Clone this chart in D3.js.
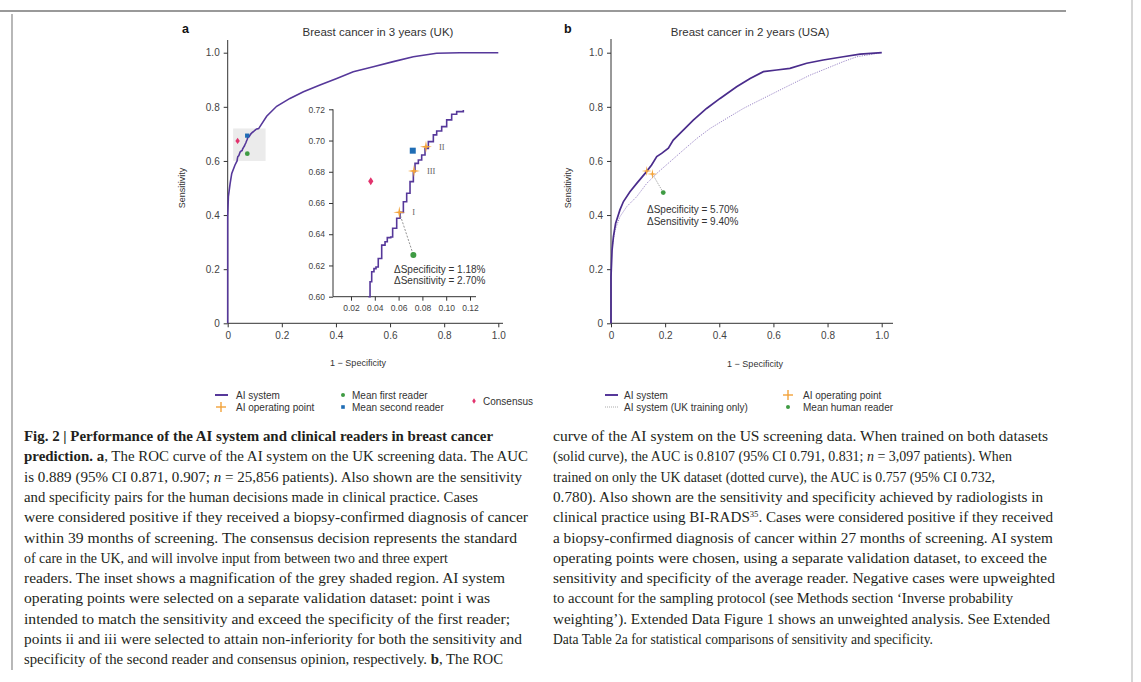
<!DOCTYPE html>
<html>
<head>
<meta charset="utf-8">
<script src="https://cdn.jsdelivr.net/npm/d3@7"></script>
<style>
  body { margin: 0; background: #fff; }
  svg { display: block; }
  .tick text { font-family: "Liberation Sans", Arial, sans-serif; fill: #444; }
  .tick line { stroke: #333; }
</style>
</head>
<body>
<div id="chart"></div>
<script>
// ---- data ----
// panel a, AI system ROC (1 - specificity, sensitivity)
var rocUK = [
  [0, 0], [0, 0.394], [0.0025, 0.468], [0.009, 0.517], [0.015, 0.554], [0.027, 0.585],
  [0.0346, 0.600], [0.036, 0.6096], [0.0374, 0.616], [0.0393, 0.618], [0.041, 0.619],
  [0.0429, 0.6245], [0.0458, 0.633], [0.0486, 0.6352], [0.0505, 0.6378], [0.0534, 0.6382],
  [0.055, 0.6438], [0.0584, 0.6502], [0.0612, 0.654], [0.064, 0.6608], [0.0668, 0.6662],
  [0.0696, 0.6737], [0.0724, 0.680], [0.0738, 0.6854], [0.0766, 0.6875], [0.0794, 0.6907],
  [0.0822, 0.695], [0.085, 0.6993], [0.0892, 0.7036], [0.092, 0.7061], [0.0962, 0.7089],
  [0.1004, 0.7132], [0.1046, 0.7168], [0.1088, 0.7185], [0.1144, 0.7196],
  [0.144, 0.765], [0.181, 0.802], [0.230, 0.831], [0.280, 0.856], [0.341, 0.881],
  [0.403, 0.905], [0.464, 0.930], [0.538, 0.948], [0.612, 0.967], [0.686, 0.985],
  [0.772, 0.998], [0.858, 1.0], [1, 1]
];
var opPointsUK = [
  { name: "I", x: 0.0606, y: 0.654 },
  { name: "II", x: 0.083, y: 0.696 },
  { name: "III", x: 0.0729, y: 0.6805 }
];
var firstReader = { x: 0.0724, y: 0.6267 };
var secondReader = { x: 0.0719, y: 0.6935 };
var consensus = { x: 0.0366, y: 0.674 };
var deltaUK = ["\u0394Specificity = 1.18%", "\u0394Sensitivity = 2.70%"];

// panel b
var rocUS = [
  [0, 0], [0, 0.172], [0.004, 0.271], [0.009, 0.32], [0.017, 0.369], [0.033, 0.419],
  [0.046, 0.45], [0.07, 0.486], [0.095, 0.517], [0.126, 0.554], [0.150, 0.585],
  [0.169, 0.616], [0.187, 0.628], [0.212, 0.647], [0.230, 0.677], [0.267, 0.714],
  [0.304, 0.751], [0.353, 0.794], [0.403, 0.831], [0.464, 0.874], [0.514, 0.905],
  [0.563, 0.930], [0.612, 0.936], [0.661, 0.942], [0.723, 0.961], [0.784, 0.973],
  [0.858, 0.985], [0.920, 0.995], [1, 1]
];
var rocUSukOnly = [
  [0, 0], [0.002, 0.271], [0.015, 0.345], [0.033, 0.394], [0.058, 0.431], [0.095, 0.468],
  [0.132, 0.517], [0.169, 0.554], [0.218, 0.597], [0.267, 0.640], [0.317, 0.683],
  [0.366, 0.720], [0.427, 0.757], [0.489, 0.794], [0.550, 0.825], [0.612, 0.856],
  [0.674, 0.887], [0.735, 0.917], [0.797, 0.942], [0.858, 0.967], [0.908, 0.985], [1, 1]
];
var opPointsUS = [{ x: 0.132, y: 0.563 }, { x: 0.153, y: 0.552 }];
var humanReaderUS = { x: 0.193, y: 0.483 };
var deltaUS = ["\u0394Specificity = 5.70%", "\u0394Sensitivity = 9.40%"];

var mainTicks = [0, 0.2, 0.4, 0.6, 0.8, 1.0];
var insetYTicks = [0.60, 0.62, 0.64, 0.66, 0.68, 0.70, 0.72];
var insetXTicks = [0.02, 0.04, 0.06, 0.08, 0.10, 0.12];
var shadedBox = { x0: 0.02, x1: 0.14, y0: 0.60, y1: 0.72 };

var legendA = [["line", "AI system"], ["op", "AI operating point"], ["first", "Mean first reader"],
               ["second", "Mean second reader"], ["cons", "Consensus"]];
var legendB = [["line", "AI system"], ["dotted", "AI system (UK training only)"],
               ["op", "AI operating point"], ["first", "Mean human reader"]];

// caption, one entry per printed line: [text, style] segments (1 bold, 2 italic, 3 superscript)
var captionLeft = [
  [["Fig. 2 | Performance of the AI system and clinical readers in breast cancer", 1]],
  [["prediction. a", 1], [", The ROC curve of the AI system on the UK screening data. The AUC", 0]],
  [["is 0.889 (95% CI 0.871, 0.907; ", 0], ["n", 2], [" = 25,856 patients). Also shown are the sensitivity", 0]],
  [["and specificity pairs for the human decisions made in clinical practice. Cases", 0]],
  [["were considered positive if they received a biopsy-confirmed diagnosis of cancer", 0]],
  [["within 39 months of screening. The consensus decision represents the standard", 0]],
  [["of care in the UK, and will involve input from between two and three expert", 0]],
  [["readers. The inset shows a magnification of the grey shaded region. AI system", 0]],
  [["operating points were selected on a separate validation dataset: point i was", 0]],
  [["intended to match the sensitivity and exceed the specificity of the first reader;", 0]],
  [["points ii and iii were selected to attain non-inferiority for both the sensitivity and", 0]],
  [["specificity of the second reader and consensus opinion, respectively. ", 0], ["b", 1], [", The ROC", 0]]
];
var captionRight = [
  [["curve of the AI system on the US screening data. When trained on both datasets", 0]],
  [["(solid curve), the AUC is 0.8107 (95% CI 0.791, 0.831; ", 0], ["n", 2], [" = 3,097 patients). When", 0]],
  [["trained on only the UK dataset (dotted curve), the AUC is 0.757 (95% CI 0.732,", 0]],
  [["0.780). Also shown are the sensitivity and specificity achieved by radiologists in", 0]],
  [["clinical practice using BI-RADS", 0], ["35", 3], [". Cases were considered positive if they received", 0]],
  [["a biopsy-confirmed diagnosis of cancer within 27 months of screening. AI system", 0]],
  [["operating points were chosen, using a separate validation dataset, to exceed the", 0]],
  [["sensitivity and specificity of the average reader. Negative cases were upweighted", 0]],
  [["to account for the sampling protocol (see Methods section \u2018Inverse probability", 0]],
  [["weighting\u2019). Extended Data Figure 1 shows an unweighted analysis. See Extended", 0]],
  [["Data Table 2a for statistical comparisons of sensitivity and specificity.", 0]]
];
// measured widths of the caption lines
var widthsLeft = [469, 504, 498, 454, 504, 493, 424, 481, 466, 486, 498, 479];
var widthsRight = [495, 459, 442, 490, 500, 500, 494, 502, 460, 497, 380];

// ---- drawing ----
var W = 1141, H = 682;
var purple = "#56389a", orange = "#f3a33a", green = "#3f9b43", blue = "#1f6db5", pink = "#e2336d";
var sans = "'Liberation Sans', Arial, sans-serif";

var svg = d3.select("#chart").append("svg").attr("width", W).attr("height", H);
svg.append("rect").attr("width", W).attr("height", H).attr("fill", "#fff");

// page frame
svg.append("line").attr("x1", 0).attr("x2", 1066).attr("y1", 11).attr("y2", 11)
  .attr("stroke", "#999").attr("stroke-width", 2);
svg.append("line").attr("x1", 12).attr("x2", 12).attr("y1", 14).attr("y2", 670)
  .attr("stroke", "#888").attr("stroke-width", 1.2);
svg.append("line").attr("x1", 1132).attr("x2", 1132).attr("y1", 0).attr("y2", H)
  .attr("stroke", "#bbb").attr("stroke-width", 1.2);

function fmt(d) { return d === 0 ? "0" : d.toFixed(1); }

function drawAxes(g, x, y, xEnd, yEnd, fs, tickFmtX, tickFmtY, xt, yt) {
  var ax = g.append("g").attr("transform", "translate(0," + y.range()[0] + ")")
    .call(d3.axisBottom(x).tickValues(xt).tickSize(4).tickPadding(5).tickFormat(tickFmtX));
  ax.select(".domain").remove();
  ax.selectAll("text").attr("font-size", fs);
  var ay = g.append("g").attr("transform", "translate(" + x.range()[0] + ",0)")
    .call(d3.axisLeft(y).tickValues(yt).tickSize(4).tickPadding(4).tickFormat(tickFmtY));
  ay.select(".domain").remove();
  ay.selectAll("text").attr("font-size", fs);
  g.append("line").attr("x1", x.range()[0]).attr("x2", xEnd)
    .attr("y1", y.range()[0]).attr("y2", y.range()[0]).attr("stroke", "#333");
  g.append("line").attr("x1", x.range()[0]).attr("x2", x.range()[0])
    .attr("y1", y.range()[0]).attr("y2", yEnd).attr("stroke", "#333");
}

function star(g, cx, cy, r) {
  var pts = [];
  for (var i = 0; i < 8; i++) {
    var a = i * Math.PI / 4 - Math.PI / 2, rr = i % 2 ? r * 0.22 : r;
    pts.push([cx + rr * Math.cos(a), cy + rr * Math.sin(a)]);
  }
  g.append("path").attr("d", "M" + pts.join("L") + "Z").attr("fill", orange);
}
function diamond(g, cx, cy, w, h) {
  g.append("path").attr("d", "M" + cx + "," + (cy - h) + "L" + (cx + w) + "," + cy + "L" + cx + "," + (cy + h) + "L" + (cx - w) + "," + cy + "Z")
    .attr("fill", pink);
}
function square(g, cx, cy, s) {
  g.append("rect").attr("x", cx - s / 2).attr("y", cy - s / 2).attr("width", s).attr("height", s).attr("fill", blue);
}
function dot(g, cx, cy, r) {
  g.append("circle").attr("cx", cx).attr("cy", cy).attr("r", r).attr("fill", green);
}

function label(txt, x, y, opts) {
  opts = opts || {};
  var t = svg.append("text").attr("x", x).attr("y", y).text(txt)
    .attr("font-family", opts.family || sans).attr("font-size", opts.size || 9.5)
    .attr("fill", opts.fill || "#333").attr("text-anchor", opts.anchor || "start");
  if (opts.weight) t.attr("font-weight", opts.weight);
  if (opts.rotate) t.attr("transform", "rotate(-90," + x + "," + y + ")");
  return t;
}

// ---------- panel a ----------
var xA = d3.scaleLinear([0, 1], [227.7, 498.3]);
var yA = d3.scaleLinear([0, 1], [323.3, 52.7]);
var gA = svg.append("g");

gA.append("rect").attr("x", xA(shadedBox.x0)).attr("y", yA(shadedBox.y1))
  .attr("width", xA(shadedBox.x1) - xA(shadedBox.x0)).attr("height", yA(shadedBox.y0) - yA(shadedBox.y1))
  .attr("fill", "#ebebeb");
drawAxes(gA, xA, yA, 503, 40, 10, fmt, fmt, mainTicks, mainTicks);

var lineA = d3.line().x(function (d) { return xA(d[0]); }).y(function (d) { return yA(d[1]); });
gA.append("path").datum(rocUK).attr("d", lineA).attr("fill", "none")
  .attr("stroke", purple).attr("stroke-width", 1.6);
diamond(gA, xA(consensus.x), yA(consensus.y), 2.2, 3.2);
square(gA, xA(secondReader.x), yA(secondReader.y), 4.2);
dot(gA, xA(firstReader.x), yA(firstReader.y), 2.4);

label("a", 182, 33, { size: 12.5, weight: "bold", fill: "#111" });
label("Breast cancer in 3 years (UK)", 378, 36, { size: 11.5, anchor: "middle" });
label("Sensitivity", 185, 188, { size: 9, anchor: "middle", rotate: true });
label("1 \u2212 Specificity", 358, 366, { size: 9, anchor: "middle" });

// inset
var xI = d3.scaleLinear([0.02, 0.12], [351, 470]);
var yI = d3.scaleLinear([0.60, 0.72], [296.7, 109.3]);
var gI = svg.append("g");
drawAxes(gI, d3.scaleLinear([0.005, 0.12], [333, 470]), yI, 476, 109.3, 8.5,
  function (d) { return d.toFixed(2); }, function (d) { return d.toFixed(2); }, [], insetYTicks);
gI.append("g").attr("transform", "translate(0," + yI(0.60) + ")")
  .call(d3.axisBottom(xI).tickValues(insetXTicks).tickSize(4).tickPadding(4).tickFormat(function (d) { return d.toFixed(2); }))
  .call(function (a) { a.select(".domain").remove(); a.selectAll("text").attr("font-size", 8.5); });

var insetData = rocUK.filter(function (d) { return d[0] >= 0.034 && d[0] <= 0.12 && d[1] >= 0.6; });
var lineI = d3.line().curve(d3.curveStepAfter)
  .x(function (d) { return xI(d[0]); }).y(function (d) { return yI(d[1]); });
gI.append("path").datum(insetData).attr("d", lineI).attr("fill", "none")
  .attr("stroke", purple).attr("stroke-width", 1.6);

gI.append("line").attr("x1", xI(opPointsUK[0].x)).attr("y1", yI(opPointsUK[0].y))
  .attr("x2", xI(firstReader.x)).attr("y2", yI(firstReader.y))
  .attr("stroke", "#777").attr("stroke-width", 0.8).attr("stroke-dasharray", "2,1.5");
diamond(gI, xI(consensus.x), yI(consensus.y), 2.6, 4);
square(gI, xI(secondReader.x), yI(secondReader.y), 6);
dot(gI, xI(firstReader.x), yI(firstReader.y), 3);
opPointsUK.forEach(function (p) {
  star(gI, xI(p.x), yI(p.y), 6);
  label(p.name, xI(p.x) + 13, yI(p.y) + 3, { size: 8.5, fill: "#666", family: "'Liberation Serif', serif" });
});
label(deltaUK[0], 394, 273, { size: 10 });
label(deltaUK[1], 394, 284, { size: 10 });

// ---------- panel b ----------
var xB = d3.scaleLinear([0, 1], [611, 881.7]);
var yB = yA;
var gB = svg.append("g");
drawAxes(gB, xB, yB, 893, 39, 10, fmt, fmt, mainTicks, mainTicks);

var lineB = d3.line().x(function (d) { return xB(d[0]); }).y(function (d) { return yB(d[1]); });
gB.append("path").datum(rocUSukOnly).attr("d", lineB).attr("fill", "none")
  .attr("stroke", "#9c88c8").attr("stroke-width", 1).attr("stroke-dasharray", "1.2,1.2");
gB.append("path").datum(rocUS).attr("d", lineB).attr("fill", "none")
  .attr("stroke", "#4a2c8c").attr("stroke-width", 1.7);
gB.append("line").attr("x1", xB(opPointsUS[1].x)).attr("y1", yB(opPointsUS[1].y))
  .attr("x2", xB(humanReaderUS.x)).attr("y2", yB(humanReaderUS.y))
  .attr("stroke", "#888").attr("stroke-width", 0.7).attr("stroke-dasharray", "1.5,1");
opPointsUS.forEach(function (p) { star(gB, xB(p.x), yB(p.y), 5); });
dot(gB, xB(humanReaderUS.x), yB(humanReaderUS.y), 2.4);
label(deltaUS[0], 647, 213, { size: 10 });
label(deltaUS[1], 647, 225, { size: 10 });

label("b", 564, 33, { size: 12.5, weight: "bold", fill: "#111" });
label("Breast cancer in 2 years (USA)", 750, 36, { size: 11.5, anchor: "middle" });
label("Sensitivity", 571, 188, { size: 9, anchor: "middle", rotate: true });
label("1 \u2212 Specificity", 755, 367, { size: 9, anchor: "middle" });

// ---------- legends ----------
function legendKey(kind, x, y) {
  if (kind === "line") svg.append("line").attr("x1", x - 6).attr("x2", x + 7).attr("y1", y).attr("y2", y).attr("stroke", purple).attr("stroke-width", 2);
  if (kind === "dotted") svg.append("line").attr("x1", x - 6).attr("x2", x + 7).attr("y1", y).attr("y2", y).attr("stroke", "#aaa").attr("stroke-width", 1).attr("stroke-dasharray", "1,1");
  if (kind === "op") {
    svg.append("line").attr("x1", x - 5).attr("x2", x + 5).attr("y1", y).attr("y2", y).attr("stroke", orange).attr("stroke-width", 1.4);
    svg.append("line").attr("x1", x).attr("x2", x).attr("y1", y - 5).attr("y2", y + 5).attr("stroke", orange).attr("stroke-width", 1.4);
  }
  if (kind === "first") dot(svg, x, y, 2);
  if (kind === "second") square(svg, x, y, 3.6);
  if (kind === "cons") diamond(svg, x, y, 1.8, 2.8);
}
var legAPos = [[221, 395], [221, 407], [343, 395], [343, 407], [474, 401]];
legendA.forEach(function (d, i) {
  legendKey(d[0], legAPos[i][0], legAPos[i][1]);
  label(d[1], legAPos[i][0] + (i < 2 ? 15 : 9), legAPos[i][1] + 3.5, { size: 10 });
});
var legBPos = [[611, 395], [611, 407], [788, 395], [788, 407]];
legendB.forEach(function (d, i) {
  legendKey(d[0], legBPos[i][0], legBPos[i][1]);
  label(d[1], legBPos[i][0] + (i < 2 ? 13 : 15), legBPos[i][1] + 3.5, { size: 10 });
});

// ---------- caption ----------
function caption(lines, widths, x0) {
  lines.forEach(function (segs, i) {
    var t = svg.append("text").attr("x", x0).attr("y", 441 + i * 20.3)
      .attr("font-family", "'Liberation Serif', 'DejaVu Serif', serif").attr("font-size", 14)
      .attr("fill", "#231f20").attr("textLength", widths[i]).attr("lengthAdjust", "spacingAndGlyphs");
    segs.forEach(function (s, j) {
      var ts = t.append("tspan").text(s[0]);
      if (s[1] === 1) ts.attr("font-weight", "bold");
      if (s[1] === 2) ts.attr("font-style", "italic");
      if (s[1] === 3) ts.attr("font-size", 8).attr("dy", -5);
      else if (j > 0 && segs[j - 1][1] === 3) ts.attr("dy", 5);
    });
  });
}
caption(captionLeft, widthsLeft, 24);
caption(captionRight, widthsRight, 553);
</script>
</body>
</html>
